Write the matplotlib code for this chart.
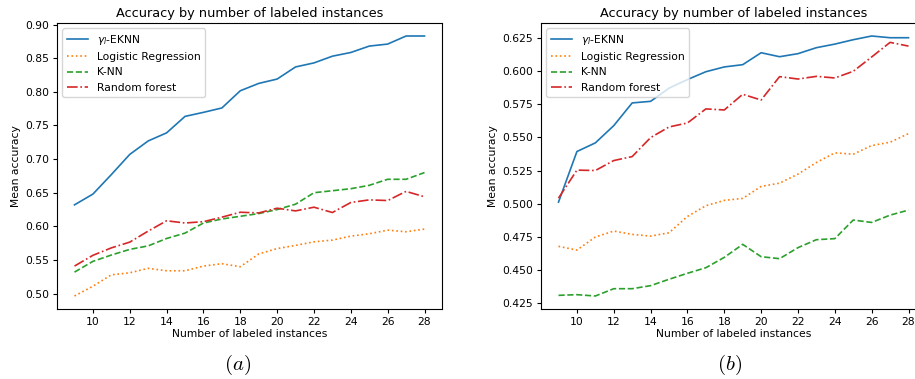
import matplotlib
matplotlib.use("Agg")
import matplotlib.pyplot as plt

# number of labeled instances
n_labeled = list(range(9, 29))

# panel (a)
eknn_a = [0.632, 0.648, 0.677, 0.707, 0.727, 0.739, 0.7635, 0.7695, 0.776, 0.8016,
          0.8125, 0.819, 0.837, 0.843, 0.853, 0.8585, 0.868, 0.871, 0.883, 0.883]
lr_a = [0.4965, 0.511, 0.528, 0.531, 0.5376, 0.534, 0.534, 0.541, 0.5445, 0.540,
        0.559, 0.567, 0.5717, 0.577, 0.5796, 0.5855, 0.589, 0.5944, 0.592, 0.596]
knn_a = [0.532, 0.548, 0.5574, 0.5658, 0.571, 0.582, 0.590, 0.605, 0.611, 0.615,
         0.619, 0.625, 0.633, 0.650, 0.653, 0.656, 0.661, 0.670, 0.670, 0.680]
rf_a = [0.541, 0.557, 0.568, 0.5766, 0.593, 0.6083, 0.605, 0.607, 0.6137, 0.621,
        0.620, 0.627, 0.623, 0.6285, 0.6206, 0.6355, 0.6394, 0.6384, 0.652, 0.644]

# panel (b)
eknn_b = [0.5012, 0.5393, 0.5458, 0.5588, 0.5759, 0.5771, 0.587, 0.5935, 0.5994, 0.603,
          0.6047, 0.6137, 0.6107, 0.613, 0.6175, 0.6202, 0.6235, 0.6263, 0.625, 0.625]
lr_b = [0.4679, 0.4651, 0.4749, 0.4794, 0.4769, 0.4756, 0.4781, 0.4904, 0.4985, 0.5025,
        0.504, 0.513, 0.5155, 0.5223, 0.531, 0.5383, 0.5373, 0.5438, 0.5463, 0.5528]
knn_b = [0.431, 0.4315, 0.4305, 0.436, 0.436, 0.4383, 0.4431, 0.4476, 0.4518, 0.4596,
         0.4694, 0.4601, 0.4586, 0.4669, 0.4729, 0.4737, 0.4877, 0.4859, 0.4914, 0.4952]
rf_b = [0.5042, 0.5253, 0.525, 0.5325, 0.5355, 0.5498, 0.5578, 0.5608, 0.5714, 0.5706,
        0.5824, 0.5781, 0.5957, 0.5939, 0.5959, 0.5947, 0.5997, 0.6105, 0.6215, 0.6187]

labels = [r'$\gamma_l$-EKNN', 'Logistic Regression', 'K-NN', 'Random forest']
styles = ['-', ':', '--', '-.']
colors = ['#1f77b4', '#ff7f0e', '#2ca02c', '#d62728']

plt.rcParams['font.size'] = 7.75
plt.rcParams['mathtext.fontset'] = 'dejavusans'

W, H = 915, 379
fig = plt.figure(figsize=(W / 100, H / 100), dpi=100)

# axes boxes in pixels: left, top, right, bottom
boxes = [(57, 23, 442, 309), (541, 23, 926, 309)]
panels = [(eknn_a, lr_a, knn_a, rf_a), (eknn_b, lr_b, knn_b, rf_b)]
subs = [r'$(a)$', r'$(b)$']
sub_x = [238, 730]

for box, series, sub, sx in zip(boxes, panels, subs, sub_x):
    l, t, r, b = box
    ax = fig.add_axes([l / W, 1 - b / H, (r - l) / W, (b - t) / H])
    for ys, lab, ls, c in zip(series, labels, styles, colors):
        ax.plot(n_labeled, ys, ls, color=c, label=lab, linewidth=1.2)
    ax.set_xticks(range(10, 29, 2))
    ax.set_title('Accuracy by number of labeled instances', fontsize=9.3, pad=4)
    ax.set_xlabel('Number of labeled instances', labelpad=2)
    ax.set_ylabel('Mean accuracy', labelpad=3)
    ax.tick_params(length=3, pad=2.5)
    ax.legend(loc='upper left', fontsize=7.75)
    fig.text(sx / W, 1 - 365 / H, sub, ha='center', va='center',
             fontsize=15, math_fontfamily='cm')

fig.savefig('out.png', dpi=100)
